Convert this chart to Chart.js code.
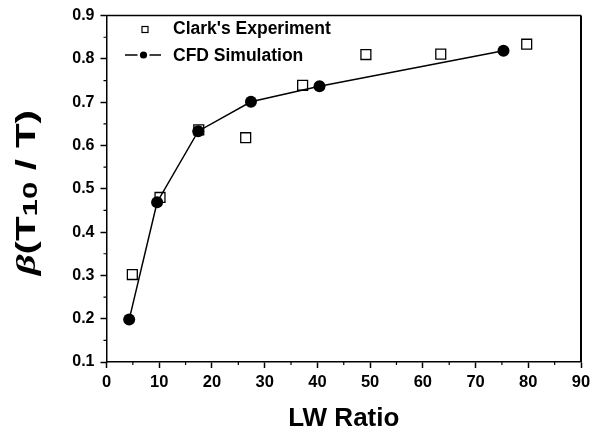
<!DOCTYPE html>
<html>
<head>
<meta charset="utf-8">
<script src="https://cdn.jsdelivr.net/npm/chart.js@4/dist/chart.umd.min.js"></script>
<style>
html,body{margin:0;padding:0;background:#fff;}
#c{display:block;}
</style>
</head>
<body>
<canvas id="c" width="601" height="434"></canvas>
<script>
// ---- data ----
const clarkX = [4.9, 10.15, 17.5, 26.4, 37.2, 49.2, 63.4, 79.7];
const clarkY = [0.302, 0.480, 0.636, 0.618, 0.739, 0.810, 0.811, 0.834];
const cfdX = [4.3, 9.6, 17.4, 27.4, 40.4, 75.3];
const cfdY = [0.198, 0.469, 0.633, 0.701, 0.737, 0.819];
const seriesNames = ["Clark's Experiment", "CFD Simulation"];
const xTickValues = [0, 10, 20, 30, 40, 50, 60, 70, 80, 90];
const yTickValues = [0.1, 0.2, 0.3, 0.4, 0.5, 0.6, 0.7, 0.8, 0.9];
const xTitle = "LW Ratio";

const FONT = '"Liberation Sans", Arial, sans-serif';

const framePlugin = {
  id: 'frame',
  afterDatasetsDraw(chart) {
    const {ctx, chartArea: a, scales} = chart;
    ctx.save();
    ctx.strokeStyle = '#000';
    // minor ticks
    ctx.lineWidth = 1.2;
    ctx.beginPath();
    for (let i = 0; i < xTickValues.length - 1; i++) {
      const v = (xTickValues[i] + xTickValues[i + 1]) / 2;
      const px = scales.x.getPixelForValue(v);
      ctx.moveTo(px, a.bottom);
      ctx.lineTo(px, a.bottom + 3);
    }
    for (let i = 0; i < yTickValues.length - 1; i++) {
      const v = (yTickValues[i] + yTickValues[i + 1]) / 2;
      const py = scales.y.getPixelForValue(v);
      ctx.moveTo(a.left, py);
      ctx.lineTo(a.left - 3, py);
    }
    ctx.stroke();
    // frame
    ctx.lineWidth = 1.5;
    ctx.beginPath();
    ctx.moveTo(a.left, a.top);
    ctx.lineTo(a.right, a.top);
    ctx.stroke();
    ctx.lineWidth = 2;
    ctx.beginPath();
    ctx.moveTo(a.right, a.top);
    ctx.lineTo(a.right, a.bottom);
    ctx.stroke();
    ctx.restore();
  },
  afterDraw(chart) {
    const {ctx, chartArea: a} = chart;
    ctx.save();
    // legend
    ctx.fillStyle = '#000';
    ctx.strokeStyle = '#000';
    ctx.font = 'bold 17.5px ' + FONT;
    ctx.textAlign = 'left';
    ctx.textBaseline = 'alphabetic';
    ctx.lineWidth = 1.2;
    ctx.strokeRect(142, 26.5, 6, 6);
    ctx.fillText(seriesNames[0], 173, 34.3);
    ctx.lineWidth = 1.5;
    ctx.beginPath();
    ctx.moveTo(125, 55); ctx.lineTo(137.5, 55);
    ctx.moveTo(149.5, 55); ctx.lineTo(161, 55);
    ctx.stroke();
    ctx.beginPath();
    ctx.arc(143.5, 55, 3.6, 0, Math.PI * 2);
    ctx.fill();
    ctx.fillText(seriesNames[1], 173, 60.7);

    // y title: β(T10 / T) with subscript, rotated
    const parts = [
      {t: 'β', f: 'italic bold 27px "Liberation Serif", serif', dy: 0},
      {t: '(T', f: 'bold 27px ' + FONT, dy: 0},
      {t: '10', f: 'bold 21px ' + FONT, dy: 2},
      {t: ' / T)', f: 'bold 27px ' + FONT, dy: 0}
    ];
    let total = 0;
    parts.forEach(p => { ctx.font = p.f; p.w = ctx.measureText(p.t).width; total += p.w; });
    const targetLen = 165;
    const s = targetLen / total;
    const cy = 192.5;
    ctx.translate(35, cy);
    ctx.rotate(-Math.PI / 2);
    ctx.scale(s, 1);
    let x = -total / 2;
    parts.forEach(p => {
      ctx.font = p.f;
      ctx.fillText(p.t, x, p.dy);
      x += p.w;
    });
    ctx.restore();
  }
};

const chart = new Chart(document.getElementById('c'), {
  type: 'scatter',
  data: {
    datasets: [
      {
        label: seriesNames[0],
        data: clarkX.map((x, i) => ({x, y: clarkY[i]})),
        showLine: false,
        pointStyle: 'rect',
        pointRadius: 7,
        pointBorderWidth: 1.3,
        pointBorderColor: '#000',
        pointBackgroundColor: 'rgba(255,255,255,0)',
        order: 2
      },
      {
        label: seriesNames[1],
        data: cfdX.map((x, i) => ({x, y: cfdY[i]})),
        showLine: true,
        borderColor: '#000',
        borderWidth: 1.5,
        pointStyle: 'circle',
        pointRadius: 6,
        pointBorderWidth: 0,
        pointBackgroundColor: '#000',
        tension: 0,
        order: 1
      }
    ]
  },
  options: {
    responsive: false,
    animation: false,
    devicePixelRatio: 1,
    layout: {padding: {left: 0, right: 20, top: 14, bottom: 0}},
    plugins: {
      legend: {display: false},
      tooltip: {enabled: false}
    },
    scales: {
      x: {
        type: 'linear',
        min: 0, max: 90,
        afterBuildTicks(scale) { scale.ticks = xTickValues.map(v => ({value: v})); },
        afterFit(scale) { scale.height = 72; },
        ticks: {
          color: '#000',
          font: {family: FONT, weight: 'bold', size: 16.5},
          padding: 5,
          maxRotation: 0,
          callback: v => String(v)
        },
        grid: {drawOnChartArea: false, drawTicks: true, tickLength: 6, tickColor: '#000', tickWidth: 1.5},
        border: {display: true, color: '#000', width: 1.5},
        title: {
          display: true,
          text: xTitle,
          color: '#000',
          font: {family: FONT, weight: 'bold', size: 26},
          padding: {top: 0, bottom: 0}
        }
      },
      y: {
        type: 'linear',
        min: 0.1, max: 0.9,
        afterBuildTicks(scale) { scale.ticks = yTickValues.map(v => ({value: v})); },
        afterFit(scale) { scale.width = 106.5; },
        ticks: {
          color: '#000',
          font: {family: FONT, weight: 'bold', size: 16},
          padding: 6,
          callback: v => Number(v).toFixed(1)
        },
        grid: {drawOnChartArea: false, drawTicks: true, tickLength: 6, tickColor: '#000', tickWidth: 1.5},
        border: {display: true, color: '#000', width: 1.5}
      }
    }
  },
  plugins: [framePlugin]
});
</script>
</body>
</html>
